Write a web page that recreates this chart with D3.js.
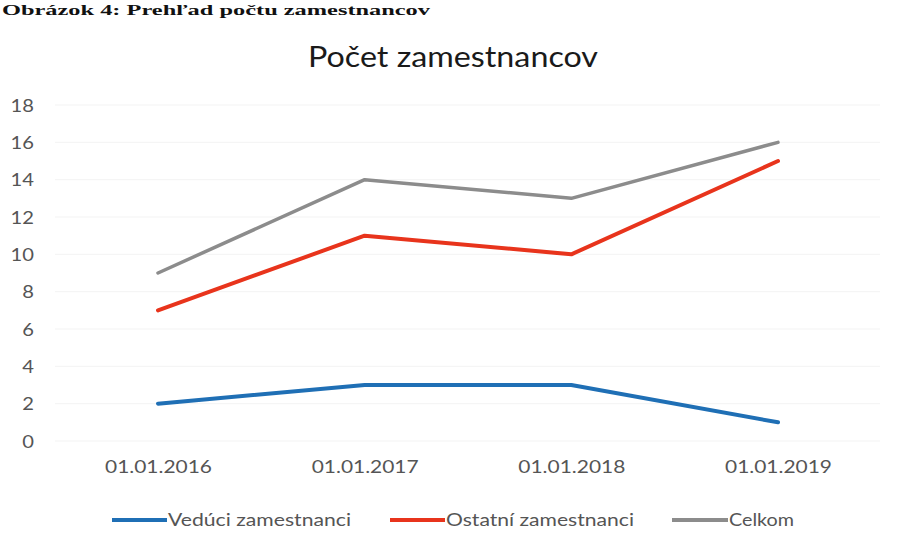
<!DOCTYPE html>
<html><head><meta charset="utf-8">
<script src="https://cdn.jsdelivr.net/npm/d3@7"></script>
<style>body{margin:0;background:#fff}svg{display:block}</style>
</head><body>
<svg id="c" width="902" height="551"></svg>
<script>
const categories = ["01.01.2016","01.01.2017","01.01.2018","01.01.2019"];
const veduci = [2,3,3,1];
const ostatni = [7,11,10,15];
const celkom = [9,14,13,16];
const yTicks = [0,2,4,6,8,10,12,14,16,18];
const seriesNames = ["Vedúci zamestnanci","Ostatní zamestnanci","Celkom"];
const colors = ["#1f6fb5","#e8341c","#8c8c8c"];

const svg = d3.select("#c");
const font = "Lato, 'Open Sans', sans-serif";
function stretch(sel, factor){
  sel.each(function(){
    const w = this.getComputedTextLength();
    d3.select(this).attr("textLength", w*factor).attr("lengthAdjust","spacingAndGlyphs");
  });
}

// caption
const cap = svg.append("text").attr("x",2).attr("y",15)
  .attr("font-family","'Liberation Serif', serif").attr("font-weight","bold")
  .attr("font-size",15).attr("fill","#111")
  .text("Obrázok 4: Prehľad počtu zamestnancov");
cap.attr("textLength",428).attr("lengthAdjust","spacingAndGlyphs");

const title = svg.append("text").attr("x",453).attr("y",67).attr("text-anchor","middle")
  .attr("font-family",font).attr("font-size",28).attr("fill","#1a1a1a")
  .text("Počet zamestnancov");
title.attr("textLength",290).attr("lengthAdjust","spacingAndGlyphs");

const x = d3.scalePoint().domain(categories).range([158,778]);
const y = d3.scaleLinear().domain([0,18]).range([441,105]);

// grid
svg.append("g").selectAll("line").data(yTicks).join("line")
  .attr("x1",55).attr("x2",880).attr("y1",d=>y(d)).attr("y2",d=>y(d))
  .attr("stroke","#f3f3f3").attr("stroke-width",1);

const ya = svg.append("g").attr("transform","translate(34,0)")
  .call(d3.axisLeft(y).tickValues(yTicks).tickSize(0).tickPadding(0));
ya.select(".domain").remove();
ya.selectAll("text").attr("font-family",font).attr("font-size",18).attr("fill","#555").attr("dy","0.35em");
stretch(ya.selectAll("text"),1.12);

const xa = svg.append("g").attr("transform","translate(0,460)")
  .call(d3.axisBottom(x).tickSize(0).tickPadding(0));
xa.select(".domain").remove();
xa.selectAll("text").attr("font-family",font).attr("font-size",18).attr("fill","#555").attr("dy","0.71em");
xa.selectAll("text").attr("textLength",107).attr("lengthAdjust","spacingAndGlyphs");

const all = [veduci, ostatni, celkom];
const widths = [4,4,3.5];
const line = d3.line().x((d,i)=>x(categories[i])).y(d=>y(d));
[2,1,0].forEach(k=>{
  svg.append("path").datum(all[k]).attr("d",line).attr("fill","none")
    .attr("stroke",colors[k]).attr("stroke-width",widths[k]).attr("stroke-linejoin","round").attr("stroke-linecap","round");
});

// legend
const legX = [112,390,672];
const legW = [55,55,56];
const legT = [183,188,65];
seriesNames.forEach((n,i)=>{
  svg.append("line").attr("x1",legX[i]).attr("x2",legX[i]+legW[i]).attr("y1",520).attr("y2",520)
    .attr("stroke",colors[i]).attr("stroke-width",4);
  svg.append("text").attr("x",legX[i]+legW[i]+1).attr("y",520).attr("dy","0.35em")
    .attr("font-family",font).attr("font-size",18).attr("fill","#555").text(n)
    .attr("textLength",legT[i]).attr("lengthAdjust","spacingAndGlyphs");
});
</script>
</body></html>
